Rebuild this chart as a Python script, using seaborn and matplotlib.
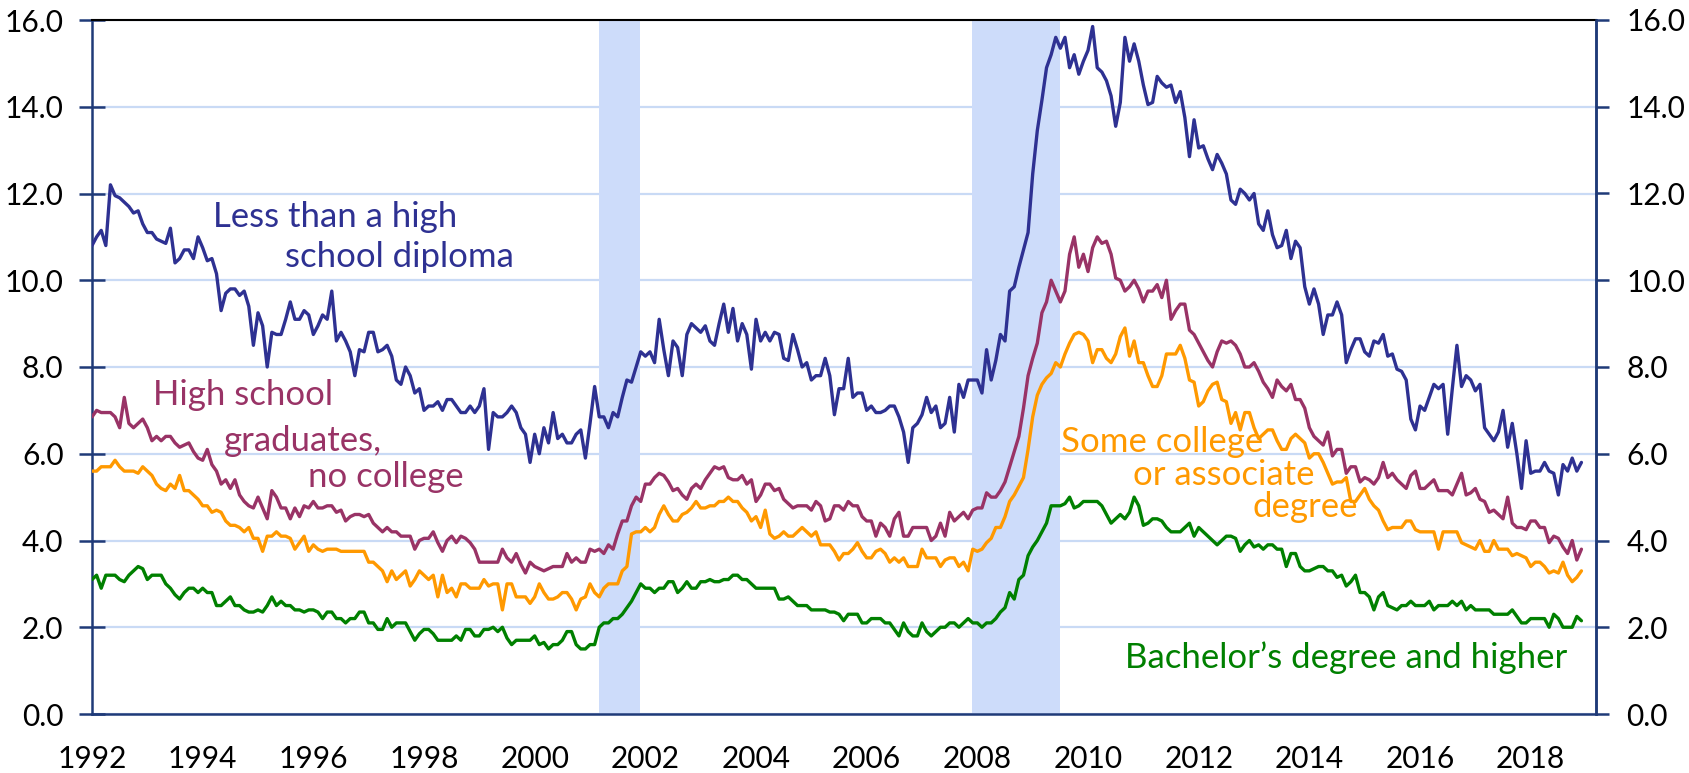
import matplotlib
matplotlib.use('Agg')
import matplotlib.pyplot as plt
import numpy as np
import pandas as pd
import seaborn as sns

# monthly unemployment rate (%), jan 1992 - dec 2018, one row per year
less_than_hs = [
    10.8, 11.0, 11.15, 10.8, 12.2, 11.95, 11.9, 11.8, 11.7, 11.55, 11.6, 11.3,
    11.1, 11.1, 10.95, 10.9, 10.85, 11.2, 10.4, 10.5, 10.7, 10.7, 10.5, 11.0,
    10.75, 10.45, 10.5, 10.15, 9.3, 9.7, 9.8, 9.8, 9.65, 9.75, 9.4, 8.5,
    9.25, 8.95, 8.0, 8.8, 8.75, 8.75, 9.1, 9.5, 9.1, 9.1, 9.3, 9.2,
    8.75, 8.95, 9.2, 9.1, 9.75, 8.6, 8.8, 8.6, 8.35, 7.8, 8.4, 8.35,
    8.8, 8.8, 8.35, 8.4, 8.5, 8.25, 7.7, 7.6, 8.0, 7.8, 7.4, 7.5,
    7.0, 7.1, 7.1, 7.2, 7.0, 7.25, 7.25, 7.1, 6.95, 6.95, 7.1, 6.95,
    7.1, 7.5, 6.1, 6.95, 6.85, 6.85, 6.95, 7.1, 6.95, 6.6, 6.45, 5.8,
    6.45, 6.0, 6.6, 6.25, 6.95, 6.35, 6.45, 6.25, 6.25, 6.45, 6.55, 5.9,
    6.7, 7.55, 6.85, 6.85, 6.6, 6.95, 6.85, 7.3, 7.7, 7.65, 8.0, 8.35,
    8.25, 8.35, 8.1, 9.1, 8.4, 7.8, 8.6, 8.45, 7.8, 8.75, 9.0, 8.9,
    8.8, 8.95, 8.6, 8.5, 9.0, 9.45, 8.8, 9.35, 8.6, 9.0, 8.75, 7.95,
    9.1, 8.6, 8.8, 8.6, 8.8, 8.75, 8.2, 8.15, 8.75, 8.4, 8.0, 8.1,
    7.7, 7.8, 7.8, 8.2, 7.8, 6.9, 7.5, 7.5, 8.2, 7.3, 7.4, 7.4,
    7.0, 7.1, 6.95, 6.95, 7.0, 7.1, 7.1, 6.85, 6.5, 5.8, 6.6, 6.7,
    6.9, 7.3, 6.95, 7.1, 6.6, 6.7, 7.3, 6.5, 7.6, 7.3, 7.7, 7.7,
    7.7, 7.4, 8.4, 7.7, 8.15, 8.75, 8.6, 9.75, 9.85, 10.3, 10.7, 11.1,
    12.45, 13.45, 14.15, 14.9, 15.2, 15.6, 15.35, 15.6, 14.9, 15.2, 14.75, 15.05,
    15.3, 15.85, 14.9, 14.8, 14.6, 14.25, 13.55, 14.1, 15.6, 15.05, 15.45, 15.05,
    14.5, 14.05, 14.1, 14.7, 14.55, 14.45, 14.5, 14.1, 14.35, 13.75, 12.85, 13.7,
    13.05, 13.1, 12.8, 12.55, 12.9, 12.7, 12.45, 11.85, 11.75, 12.1, 12.0, 11.85,
    12.0, 11.3, 11.15, 11.6, 11.05, 10.75, 10.8, 11.15, 10.5, 10.9, 10.75, 9.85,
    9.45, 9.8, 9.45, 8.75, 9.2, 9.2, 9.5, 9.2, 8.1, 8.4, 8.65, 8.65,
    8.35, 8.25, 8.6, 8.55, 8.75, 8.25, 8.3, 7.95, 7.9, 7.7, 6.8, 6.55,
    7.1, 7.0, 7.3, 7.6, 7.5, 7.6, 6.45, 7.5, 8.5, 7.55, 7.8, 7.7,
    7.45, 7.6, 6.6, 6.45, 6.3, 6.5, 7.0, 6.15, 6.7, 6.0, 5.2, 6.3,
    5.55, 5.6, 5.6, 5.8, 5.6, 5.55, 5.05, 5.75, 5.6, 5.9, 5.6, 5.8,
]

hs_grad = [
    6.85, 7.0, 6.95, 6.95, 6.95, 6.85, 6.6, 7.3, 6.7, 6.6, 6.7, 6.8,
    6.6, 6.3, 6.4, 6.3, 6.4, 6.4, 6.25, 6.15, 6.2, 6.25, 6.05, 5.9,
    5.85, 6.1, 5.75, 5.6, 5.3, 5.4, 5.2, 5.4, 5.05, 4.9, 4.8, 4.75,
    5.0, 4.75, 4.5, 5.15, 5.0, 4.75, 4.75, 4.5, 4.75, 4.55, 4.8, 4.75,
    4.9, 4.75, 4.75, 4.8, 4.8, 4.65, 4.7, 4.45, 4.55, 4.6, 4.6, 4.55,
    4.6, 4.4, 4.3, 4.2, 4.3, 4.2, 4.2, 4.1, 4.1, 4.1, 3.8, 4.0,
    4.05, 4.05, 4.2, 3.95, 3.75, 4.0, 4.1, 3.95, 4.1, 4.05, 3.95, 3.8,
    3.5, 3.5, 3.5, 3.5, 3.5, 3.8, 3.6, 3.5, 3.7, 3.45, 3.25, 3.5,
    3.4, 3.35, 3.3, 3.35, 3.4, 3.4, 3.4, 3.7, 3.5, 3.6, 3.5, 3.5,
    3.8, 3.75, 3.8, 3.7, 3.9, 3.8, 4.15, 4.45, 4.45, 4.8, 5.0, 4.9,
    5.3, 5.3, 5.45, 5.55, 5.5, 5.35, 5.15, 5.2, 5.05, 4.95, 5.2, 5.3,
    5.2, 5.4, 5.55, 5.7, 5.65, 5.7, 5.45, 5.4, 5.4, 5.5, 5.3, 5.4,
    4.9, 5.05, 5.3, 5.3, 5.15, 5.2, 4.95, 4.85, 4.75, 4.8, 4.8, 4.8,
    4.7, 4.9, 4.8, 4.45, 4.5, 4.8, 4.8, 4.7, 4.9, 4.8, 4.8, 4.55,
    4.45, 4.45, 4.1, 4.4, 4.3, 4.1, 4.5, 4.65, 4.1, 4.1, 4.3, 4.3,
    4.3, 4.3, 4.0, 4.1, 4.4, 4.1, 4.65, 4.45, 4.55, 4.65, 4.5, 4.7,
    4.75, 4.75, 5.1, 5.0, 5.0, 5.15, 5.35, 5.7, 6.05, 6.4, 7.05, 7.8,
    8.2, 8.55, 9.25, 9.5, 10.0, 9.75, 9.5, 9.75, 10.6, 11.0, 10.3, 10.6,
    10.2, 10.75, 11.0, 10.85, 10.9, 10.6, 10.05, 10.0, 9.75, 9.85, 10.0, 9.8,
    9.5, 9.75, 9.75, 9.9, 9.6, 10.0, 9.1, 9.3, 9.45, 9.45, 8.85, 8.75,
    8.55, 8.35, 8.15, 8.0, 8.35, 8.6, 8.55, 8.6, 8.5, 8.3, 8.0, 8.0,
    8.1, 7.9, 7.65, 7.5, 7.3, 7.7, 7.55, 7.45, 7.6, 7.25, 7.25, 7.05,
    6.6, 6.4, 6.3, 6.2, 6.5, 5.95, 6.1, 6.1, 5.55, 5.7, 5.7, 5.35,
    5.45, 5.4, 5.3, 5.45, 5.8, 5.45, 5.55, 5.4, 5.3, 5.2, 5.5, 5.6,
    5.2, 5.2, 5.3, 5.4, 5.15, 5.15, 5.15, 5.05, 5.3, 5.55, 5.05, 5.1,
    5.2, 4.95, 4.9, 4.65, 4.7, 4.6, 4.5, 5.0, 4.4, 4.3, 4.3, 4.25,
    4.45, 4.45, 4.3, 4.3, 3.95, 4.1, 4.05, 3.85, 3.7, 4.0, 3.55, 3.8,
]

some_college = [
    5.6, 5.6, 5.7, 5.7, 5.7, 5.85, 5.7, 5.6, 5.6, 5.6, 5.55, 5.7,
    5.6, 5.5, 5.3, 5.2, 5.15, 5.3, 5.2, 5.5, 5.15, 5.15, 5.05, 4.95,
    4.8, 4.8, 4.65, 4.7, 4.65, 4.45, 4.35, 4.35, 4.3, 4.2, 4.3, 4.05,
    4.05, 3.75, 4.1, 4.1, 4.2, 4.1, 4.1, 4.05, 3.8, 3.95, 4.1, 3.75,
    3.9, 3.8, 3.75, 3.8, 3.8, 3.8, 3.75, 3.75, 3.75, 3.75, 3.75, 3.75,
    3.5, 3.5, 3.4, 3.3, 3.05, 3.3, 3.1, 3.2, 3.3, 2.95, 3.1, 3.3,
    3.2, 3.1, 3.2, 2.7, 3.2, 2.8, 2.9, 2.7, 3.0, 3.0, 2.9, 2.9,
    2.9, 3.1, 2.95, 3.0, 3.0, 2.4, 3.0, 3.0, 2.7, 2.7, 2.7, 2.55,
    2.7, 3.0, 2.8, 2.65, 2.65, 2.7, 2.8, 2.8, 2.65, 2.4, 2.65, 2.7,
    3.0, 2.8, 2.7, 2.9, 3.0, 3.0, 3.0, 3.3, 3.4, 4.15, 4.2, 4.2,
    4.3, 4.2, 4.3, 4.6, 4.8, 4.6, 4.45, 4.45, 4.6, 4.65, 4.75, 4.9,
    4.75, 4.75, 4.8, 4.8, 4.9, 4.9, 5.0, 4.9, 4.9, 4.75, 4.65, 4.45,
    4.55, 4.3, 4.7, 4.15, 4.05, 4.1, 4.2, 4.1, 4.1, 4.2, 4.3, 4.2,
    4.1, 4.2, 3.9, 3.9, 3.9, 3.75, 3.55, 3.7, 3.7, 3.8, 3.95, 3.75,
    3.6, 3.6, 3.75, 3.8, 3.7, 3.5, 3.6, 3.5, 3.6, 3.4, 3.4, 3.4,
    3.8, 3.6, 3.6, 3.6, 3.4, 3.55, 3.6, 3.6, 3.4, 3.5, 3.3, 3.8,
    3.75, 3.8, 3.95, 4.05, 4.3, 4.3, 4.55, 4.9, 5.05, 5.25, 5.45, 6.1,
    6.85, 7.35, 7.6, 7.75, 7.85, 8.1, 8.0, 8.3, 8.55, 8.75, 8.8, 8.75,
    8.6, 8.1, 8.4, 8.4, 8.2, 8.1, 8.3, 8.7, 8.9, 8.25, 8.6, 8.1,
    8.1, 7.8, 7.55, 7.55, 7.8, 8.3, 8.3, 8.3, 8.5, 8.2, 7.7, 7.65,
    7.1, 7.2, 7.45, 7.6, 7.65, 7.25, 7.2, 6.7, 6.95, 6.55, 6.95, 6.95,
    6.6, 6.35, 6.45, 6.55, 6.55, 6.3, 6.1, 6.1, 6.35, 6.45, 6.35, 6.25,
    5.9, 6.0, 6.0, 5.8, 5.55, 5.3, 5.35, 5.35, 5.45, 4.9, 4.9, 5.05,
    5.2, 4.95, 4.8, 4.7, 4.45, 4.25, 4.3, 4.3, 4.3, 4.45, 4.45, 4.25,
    4.2, 4.2, 4.2, 4.2, 3.8, 4.2, 4.2, 4.2, 4.2, 3.95, 3.9, 3.85,
    3.8, 4.0, 3.75, 3.75, 4.0, 3.8, 3.8, 3.8, 3.65, 3.7, 3.65, 3.6,
    3.4, 3.5, 3.5, 3.4, 3.25, 3.3, 3.25, 3.5, 3.2, 3.05, 3.15, 3.3,
]

bachelors = [
    3.1, 3.2, 2.9, 3.2, 3.2, 3.2, 3.1, 3.05, 3.2, 3.3, 3.4, 3.35,
    3.1, 3.2, 3.2, 3.2, 3.0, 2.9, 2.75, 2.65, 2.8, 2.9, 2.9, 2.8,
    2.9, 2.8, 2.8, 2.5, 2.5, 2.6, 2.7, 2.5, 2.5, 2.4, 2.35, 2.35,
    2.4, 2.35, 2.5, 2.7, 2.5, 2.6, 2.5, 2.5, 2.4, 2.4, 2.35, 2.4,
    2.4, 2.35, 2.2, 2.35, 2.35, 2.2, 2.2, 2.1, 2.2, 2.2, 2.35, 2.35,
    2.1, 2.1, 1.95, 1.95, 2.2, 2.0, 2.1, 2.1, 2.1, 1.9, 1.7, 1.85,
    1.95, 1.95, 1.85, 1.7, 1.7, 1.7, 1.7, 1.8, 1.7, 1.95, 1.95, 1.8,
    1.8, 1.95, 1.95, 2.0, 1.9, 2.0, 1.75, 1.6, 1.7, 1.7, 1.7, 1.7,
    1.8, 1.6, 1.65, 1.5, 1.6, 1.6, 1.7, 1.9, 1.9, 1.6, 1.5, 1.5,
    1.6, 1.6, 2.0, 2.1, 2.1, 2.2, 2.2, 2.3, 2.45, 2.6, 2.8, 3.0,
    2.9, 2.9, 2.8, 2.9, 2.9, 3.05, 3.05, 2.8, 2.9, 3.05, 2.9, 2.9,
    3.05, 3.05, 3.1, 3.05, 3.05, 3.1, 3.1, 3.2, 3.2, 3.1, 3.1, 3.0,
    2.9, 2.9, 2.9, 2.9, 2.9, 2.65, 2.65, 2.7, 2.6, 2.5, 2.5, 2.5,
    2.4, 2.4, 2.4, 2.4, 2.35, 2.35, 2.3, 2.15, 2.3, 2.3, 2.3, 2.1,
    2.1, 2.2, 2.2, 2.2, 2.1, 2.1, 1.95, 1.8, 2.1, 1.9, 1.8, 1.8,
    2.1, 1.9, 1.8, 1.9, 2.0, 2.0, 2.1, 2.1, 2.0, 2.1, 2.2, 2.1,
    2.1, 2.0, 2.1, 2.1, 2.2, 2.35, 2.45, 2.8, 2.65, 3.1, 3.2, 3.65,
    3.85, 4.0, 4.2, 4.4, 4.8, 4.8, 4.8, 4.85, 5.0, 4.75, 4.8, 4.9,
    4.9, 4.9, 4.9, 4.8, 4.6, 4.4, 4.5, 4.6, 4.5, 4.65, 5.0, 4.8,
    4.35, 4.4, 4.5, 4.5, 4.45, 4.3, 4.2, 4.2, 4.2, 4.3, 4.4, 4.1,
    4.3, 4.2, 4.1, 4.0, 3.9, 4.0, 4.1, 4.1, 4.05, 3.75, 3.9, 4.0,
    3.85, 3.9, 3.8, 3.9, 3.9, 3.8, 3.8, 3.4, 3.7, 3.7, 3.4, 3.3,
    3.3, 3.35, 3.4, 3.4, 3.3, 3.3, 3.15, 3.2, 2.95, 3.05, 3.2, 2.8,
    2.8, 2.7, 2.4, 2.7, 2.8, 2.5, 2.45, 2.4, 2.5, 2.5, 2.6, 2.5,
    2.5, 2.5, 2.6, 2.4, 2.5, 2.5, 2.5, 2.6, 2.5, 2.6, 2.4, 2.5,
    2.4, 2.4, 2.4, 2.4, 2.3, 2.3, 2.3, 2.3, 2.4, 2.25, 2.1, 2.1,
    2.2, 2.2, 2.2, 2.2, 2.0, 2.3, 2.2, 2.0, 2.0, 2.0, 2.25, 2.15,
]

series_names = ['Less than HS', 'HS graduates', 'Some college', 'Bachelors']
series_colors = ['#2e3192', '#993366', '#ff9900', '#008000']

recession_starts = [2001.16, 2007.90]
recession_ends = [2001.90, 2009.50]

y_ticks = [0, 2, 4, 6, 8, 10, 12, 14, 16]
tick_years = list(range(1992, 2020))

# monthly positions as decimal years
months = 1992 + np.arange(len(less_than_hs)) / 12

df = pd.concat([
    pd.DataFrame({'year': months, 'rate': vals, 'serie': name})
    for name, vals in zip(series_names,
                          [less_than_hs, hs_grad, some_college, bachelors])
])

sns.set_theme(style='white')
plt.rcParams['font.family'] = ['Lato', 'DejaVu Sans']

navy = '#1f3a78'
fig = plt.figure(figsize=(16.9, 7.73), dpi=100)
ax = fig.add_axes([92 / 1690, 1 - 714 / 773, 1504 / 1690, 694 / 773])

# recessoes
for ini, fim in zip(recession_starts, recession_ends):
    ax.axvspan(ini, fim, color='#cddcfa', lw=0, zorder=1)

sns.lineplot(data=df, x='year', y='rate', hue='serie', hue_order=series_names,
             palette=series_colors, linewidth=2.4, legend=False, ax=ax,
             zorder=3)

ax.set_xlim(1992, 2019.18)
ax.set_ylim(0, 16)
ax.set_xlabel('')
ax.set_ylabel('')

ax.yaxis.grid(True, color='#c9daf5', lw=1.6, zorder=0)
ax.xaxis.grid(False)
ax.set_axisbelow(True)

ax.set_yticks(y_ticks)
ax.set_yticklabels([f'{v:.1f}' for v in y_ticks])
ax.set_xticks(tick_years)
ax.set_xticklabels([str(y) if y % 2 == 0 else '' for y in tick_years])

ax.tick_params(axis='y', direction='inout', length=19, width=1.8, color=navy,
               labelsize=21.5, pad=11, labelcolor='black')
ax.tick_params(axis='x', direction='out', length=11, width=1.8, color=navy,
               labelsize=21.5, pad=11, labelcolor='black')

for lado in ['left', 'right', 'bottom']:
    ax.spines[lado].set_color(navy)
    ax.spines[lado].set_linewidth(1.8)
ax.spines['top'].set_color('black')
ax.spines['top'].set_linewidth(1.5)

# eixo direito
ax2 = ax.twinx()
ax2.set_ylim(0, 16)
ax2.set_yticks(y_ticks)
ax2.set_yticklabels([f'{v:.1f}' for v in y_ticks])
ax2.tick_params(axis='y', direction='out', length=9, width=1.8, color=navy,
                labelsize=21.5, pad=13, labelcolor='black')
ax2.grid(False)
for lado in ['left', 'top', 'bottom']:
    ax2.spines[lado].set_visible(False)
ax2.spines['right'].set_color(navy)
ax2.spines['right'].set_linewidth(1.8)

# rotulos das series
rotulos = [
    ('Less than a high', 1994.19, 11.23, series_colors[0]),
    ('school diploma', 1995.49, 10.31, series_colors[0]),
    ('High school', 1993.10, 7.12, series_colors[1]),
    ('graduates,', 1994.39, 6.07, series_colors[1]),
    ('no college', 1995.90, 5.24, series_colors[1]),
    ('Some college', 2009.51, 6.04, series_colors[2]),
    ('or associate', 2010.81, 5.28, series_colors[2]),
    ('degree', 2012.98, 4.55, series_colors[2]),
    ('Bachelor\u2019s degree and higher', 2010.67, 1.06, series_colors[3]),
]
for txt, x, y, cor in rotulos:
    ax.text(x, y, txt, color=cor, fontsize=25, ha='left', va='baseline',
            zorder=4)

fig.savefig('out.png', dpi=100)
